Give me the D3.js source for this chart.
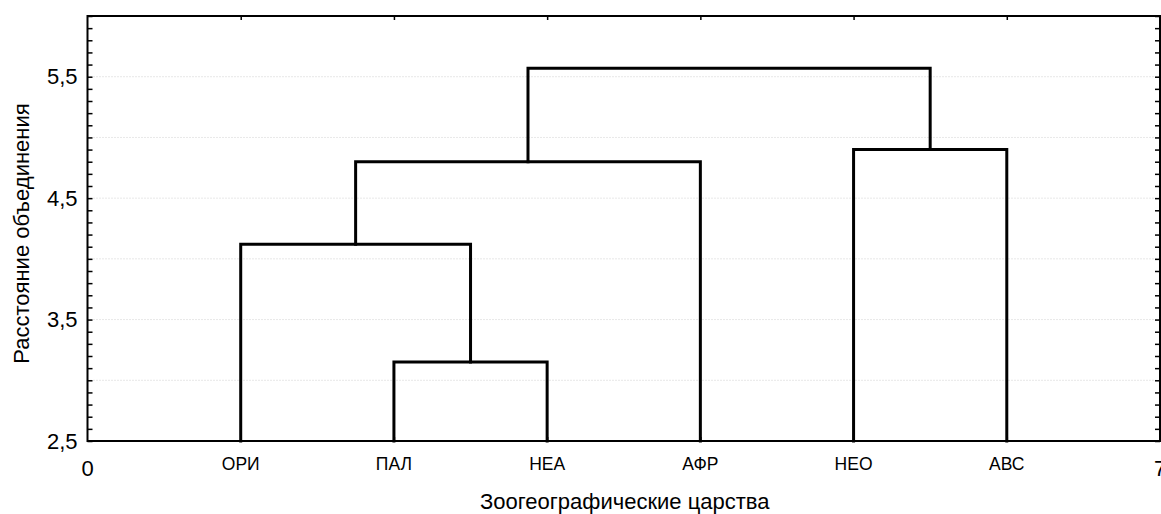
<!DOCTYPE html>
<html>
<head>
<meta charset="utf-8">
<script src="https://cdn.jsdelivr.net/npm/d3@7"></script>
<style>
  html, body { margin: 0; padding: 0; background: #fff; }
  svg { display: block; font-family: "Liberation Sans", Arial, sans-serif; }
</style>
</head>
<body>
<svg id="chart" width="1161" height="514"></svg>
<script>
// Leaves of the dendrogram, in drawing order
const leaves = ["ОРИ", "ПАЛ", "НЕА", "АФР", "НЕО", "АВС"];
// Linkage steps: ids 0..5 are leaves, each step creates cluster id 6, 7, ...
const mergeLeft = [1, 0, 7, 4, 8];
const mergeRight = [2, 6, 3, 5, 9];
const mergeHeight = [3.15, 4.12, 4.80, 4.90, 5.57];
// Axis ticks
const yLabelTicks = [2.5, 3.5, 4.5, 5.5];
const yGridTicks = [3.0, 3.5, 4.0, 4.5, 5.0, 5.5];
const xEndTicks = [0, 7];

const svg = d3.select("#chart");
const m = { left: 87.5, right: 1160, top: 16, bottom: 441 };

const x = d3.scaleLinear().domain([0, 7]).range([m.left, m.right]);
const y = d3.scaleLinear().domain([2.5, 6.0]).range([m.bottom, m.top]);

// Dotted grid lines
svg.append("g")
  .selectAll("line")
  .data(yGridTicks)
  .join("line")
  .attr("x1", m.left).attr("x2", m.right)
  .attr("y1", d => y(d)).attr("y2", d => y(d))
  .attr("stroke", "#cfcfcf")
  .attr("stroke-width", 1)
  .attr("stroke-dasharray", "1,2");

// Node positions: leaves at 1..n, clusters centred over their children
const nodeX = leaves.map((_, i) => i + 1);
const nodeY = leaves.map(() => 2.5);
mergeHeight.forEach((h, k) => {
  const a = mergeLeft[k], b = mergeRight[k];
  nodeX.push((nodeX[a] + nodeX[b]) / 2);
  nodeY.push(h);
});

// Dendrogram links
svg.append("g")
  .selectAll("path")
  .data(mergeHeight.map((h, k) => ({ a: mergeLeft[k], b: mergeRight[k], h })))
  .join("path")
  .attr("d", d => {
    const p = d3.path();
    p.moveTo(x(nodeX[d.a]), y(nodeY[d.a]));
    p.lineTo(x(nodeX[d.a]), y(d.h));
    p.lineTo(x(nodeX[d.b]), y(d.h));
    p.lineTo(x(nodeX[d.b]), y(nodeY[d.b]));
    return p.toString();
  })
  .attr("fill", "none")
  .attr("stroke", "#000")
  .attr("stroke-width", 3)
  .attr("stroke-linejoin", "miter")
  .attr("stroke-linecap", "square");

// Frame axes with inward ticks
const minorY = d3.range(25, 61).map(v => v / 10);
const leftAxis = d3.axisRight(y).tickValues(minorY).tickSize(5).tickFormat("");
const rightAxis = d3.axisLeft(y).tickValues(minorY).tickSize(5).tickFormat("");
const topAxis = d3.axisBottom(x).tickValues(d3.range(1, 7)).tickSize(4).tickFormat("");
const bottomAxis = d3.axisTop(x).tickValues(d3.range(1, 7)).tickSize(4).tickFormat("");

function styleAxis(g) {
  g.select(".domain").remove();
  g.selectAll(".tick line").attr("stroke", "#000").attr("stroke-width", 1.5);
}
svg.append("g").attr("transform", `translate(${m.left},0)`).call(leftAxis).call(styleAxis);
svg.append("g").attr("transform", `translate(${m.right},0)`).call(rightAxis).call(styleAxis);
svg.append("g").attr("transform", `translate(0,${m.top})`).call(topAxis).call(styleAxis);
svg.append("g").attr("transform", `translate(0,${m.bottom})`).call(bottomAxis).call(styleAxis);

svg.append("rect")
  .attr("x", m.left).attr("y", m.top)
  .attr("width", m.right - m.left).attr("height", m.bottom - m.top)
  .attr("fill", "none").attr("stroke", "#000").attr("stroke-width", 2);

// Y tick labels
svg.append("g")
  .selectAll("text")
  .data(yLabelTicks)
  .join("text")
  .attr("x", m.left - 10)
  .attr("y", d => y(d))
  .attr("dy", "0.35em")
  .attr("text-anchor", "end")
  .attr("font-size", 22)
  .text(d => d3.format(".1f")(d).replace(".", ","));

// X end labels
svg.append("g")
  .selectAll("text")
  .data(xEndTicks)
  .join("text")
  .attr("x", d => x(d))
  .attr("y", m.bottom + 27)
  .attr("dy", "0.35em")
  .attr("text-anchor", "middle")
  .attr("font-size", 22)
  .text(d => d);

// Leaf labels
svg.append("g")
  .selectAll("text")
  .data(leaves)
  .join("text")
  .attr("x", (d, i) => x(i + 1))
  .attr("y", m.bottom + 23)
  .attr("dy", "0.35em")
  .attr("text-anchor", "middle")
  .attr("font-size", 17.5)
  .text(d => d);

// Axis titles
svg.append("text")
  .attr("x", (m.left + m.right) / 2 + 1)
  .attr("y", 509)
  .attr("text-anchor", "middle")
  .attr("font-size", 22)
  .text("Зоогеографические царства");

svg.append("text")
  .attr("transform", `translate(21,${(m.top + m.bottom) / 2 + 5}) rotate(-90)`)
  .attr("dy", "0.35em")
  .attr("text-anchor", "middle")
  .attr("font-size", 22)
  .text("Расстояние объединения");
</script>
</body>
</html>
